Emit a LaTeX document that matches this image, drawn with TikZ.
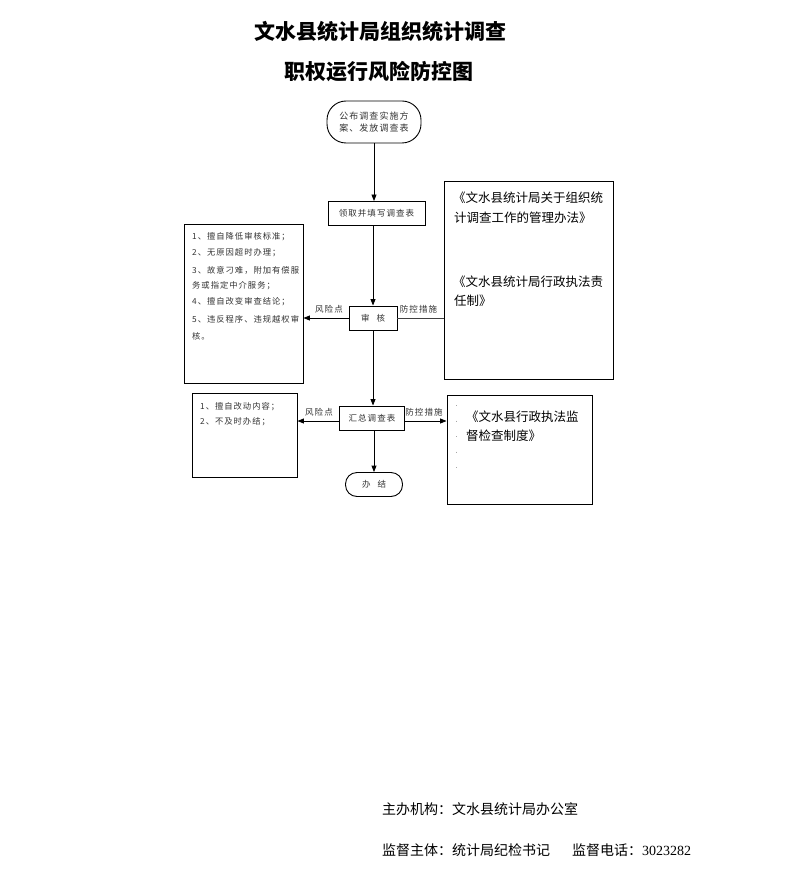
\documentclass[tikz,border=0pt]{standalone}
\usepackage{fontspec}
\newfontfamily\cjk{Noto Sans CJK SC}
\newfontfamily\cjksp[LetterSpace=12]{Noto Sans CJK SC}
\newfontfamily\cjkbox[LetterSpace=12]{Noto Sans CJK SC}
\newfontfamily\tnr{Liberation Serif}
\usetikzlibrary{arrows.meta}
\begin{document}
\begin{tikzpicture}[x=1pt,y=-1pt,
  fbox/.style={draw, line width=0.9pt, inner sep=0pt},
  arr/.style={-{Triangle[length=6.5pt,width=5pt]}, line width=0.9pt},
  plain/.style={line width=0.9pt, black!75},
  small/.style={font=\cjksp\fontsize{8.5}{12}\selectfont, text=black!80, inner sep=0pt},
  risk/.style={font=\cjkbox\fontsize{8.3}{10}\selectfont, text=black!80, inner sep=0pt, anchor=west},
  law/.style={font=\cjk\fontsize{12.5}{14}\selectfont, inner sep=0pt, anchor=west},
  foot/.style={font=\cjk\fontsize{14}{16}\selectfont, inner sep=0pt, anchor=west},
  ttl/.style={font=\cjk\bfseries\fontsize{21}{24}\selectfont, inner sep=0pt}]
\fill[white] (0,0) rectangle (793,877);
\useasboundingbox (0,0) rectangle (793,877);

% titles
\node[ttl] (t1) at (380,32) {文水县统计局组织统计调查};
\node[ttl] (t2) at (379,72) {职权运行风险防控图};

% main flow nodes
\node[fbox, rounded corners=19pt, minimum width=94pt, minimum height=42pt,
      align=center, font=\cjksp\fontsize{9}{12.5}\selectfont, text=black!80] (top) at (374,122)
      {公布调查实施方\\案、发放调查表};
\node[fbox, small, minimum width=97pt, minimum height=24pt] (ling) at (376.5,213.5) {领取并填写调查表};
\node[fbox, small, minimum width=48pt, minimum height=24pt] (shen) at (373,318) {审\hspace{7pt}核};
\node[fbox, small, minimum width=65pt, minimum height=24pt] (hui) at (372,418) {汇总调查表};
\node[fbox, small, rounded corners=11.5pt, minimum width=57pt, minimum height=24pt] (ban) at (374,484.5) {办\hspace{7pt}结};

% side boxes
\node[fbox, minimum width=119pt, minimum height=159pt] (L1) at (243.5,303.5) {};
\node[fbox, minimum width=169pt, minimum height=198pt] (R1) at (528.5,280) {};
\node[fbox, minimum width=105pt, minimum height=84pt] (L2) at (244.5,435) {};
\node[fbox, minimum width=145pt, minimum height=109pt] (R2) at (519.5,449.5) {};

% left box 1 text
\node[risk] (a1) at (192,237) {1、擅自降低审核标准；};
\node[risk] (a2) at (192,253) {2、无原因超时办理；};
\node[risk] (a3) at (192,270) {3、故意刁难，附加有偿服};
\node[risk] (a4) at (192,286) {务或指定中介服务；};
\node[risk] (a5) at (192,302) {4、擅自改变审查结论；};
\node[risk] (a6) at (192,319) {5、违反程序、违规越权审};
\node[risk] (a7) at (192,336) {核。};

% left box 2 text
\node[risk] (b1) at (200,407) {1、擅自改动内容；};
\node[risk] (b2) at (200,422) {2、不及时办结；};

% right box 1 text
\node[law] (c1) at (453,198) {《文水县统计局关于组织统};
\node[law] (c2) at (454,218) {计调查工作的管理办法》};
\node[law] (c3) at (453,282) {《文水县统计局行政执法责};
\node[law] (c4) at (454,301) {任制》};

% right box 2 text
\node[law] (d1) at (466,417) {《文水县行政执法监};
\node[law] (d2) at (466,436) {督检查制度》};
\draw[black!35, line width=0.6pt, dash pattern=on 1pt off 14.5pt] (456,405) -- (456,480);

% connectors
\draw[arr] (top.south) -- (top.south |- ling.north);
\draw[arr] (shen.north |- ling.south) -- (shen.north);
\draw[arr] (shen.west) -- (shen.west -| L1.east);
\draw[plain] (shen.east) -- (shen.east -| R1.west);
\draw[arr] (shen.south) -- (shen.south |- hui.north);
\draw[arr] ([yshift=-3pt]hui.west) -- ([yshift=-3pt]hui.west -| L2.east);
\draw[arr] ([yshift=-3pt]hui.east) -- ([yshift=-3pt]hui.east -| R2.west);
\draw[arr] (ban.north |- hui.south) -- (ban.north);

% labels on connectors
\node[small] (r1) at (329,309) {风险点};
\node[small] (p1) at (418.5,309) {防控措施};
\node[small] (r2) at (319,412) {风险点};
\node[small] (p2) at (424,412) {防控措施};

% footer
\node[foot] (f1) at (382,809) {主办机构：文水县统计局办公室};
\node[foot] (f2) at (382,850) {监督主体：统计局纪检书记\hspace{22pt}监督电话：{\tnr 3023282}};
\end{tikzpicture}
\end{document}
